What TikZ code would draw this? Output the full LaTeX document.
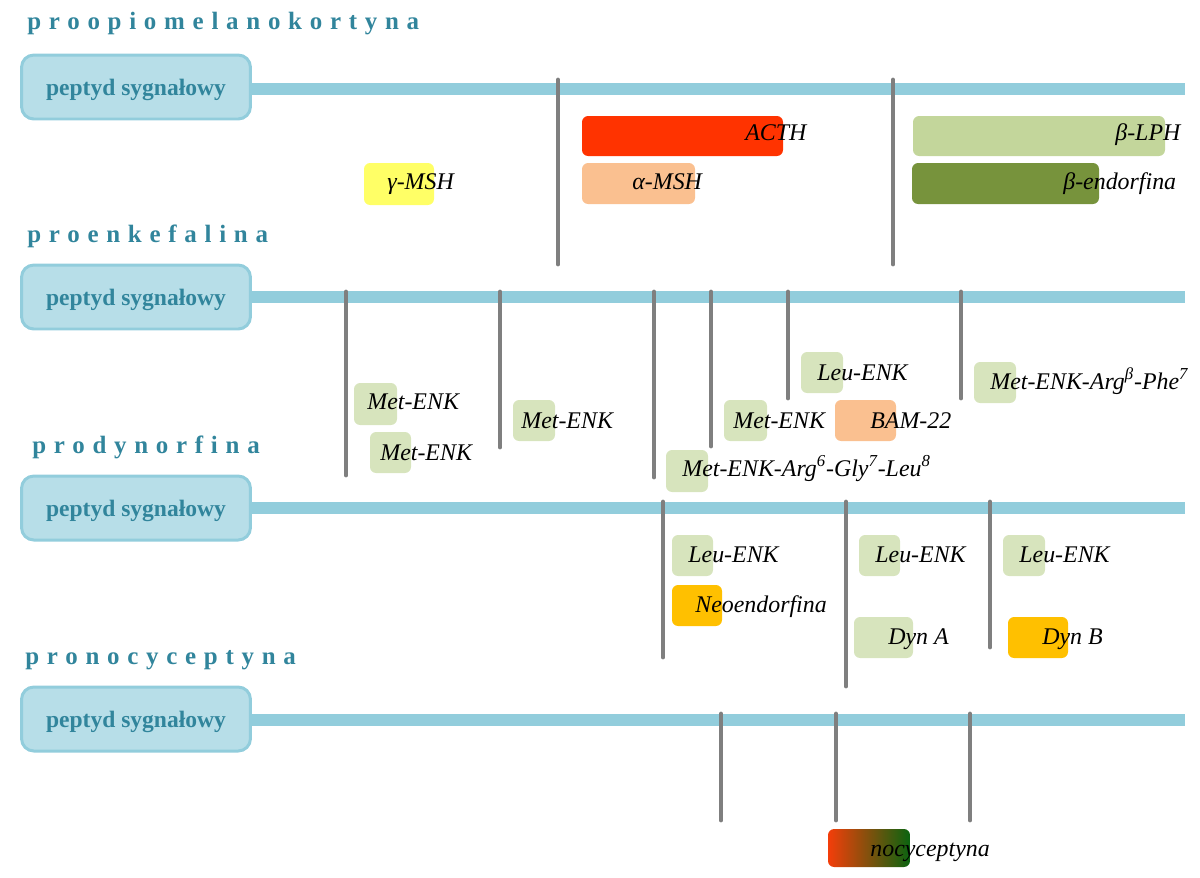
\documentclass[tikz,border=0pt]{standalone}
\usepackage{fontspec}
\setmainfont{Liberation Serif}
\usepackage{xcolor}
\usepackage{tikz}
\usetikzlibrary{positioning}

\definecolor{tealtxt}{HTML}{31859C}
\definecolor{sigfill}{HTML}{B7DEE8}
\definecolor{sigline}{HTML}{92CDDC}
\definecolor{cutgray}{HTML}{7F7F7F}
\definecolor{acthred}{HTML}{FF3300}
\definecolor{lphgreen}{HTML}{C3D69B}
\definecolor{mshyellow}{HTML}{FFFF66}
\definecolor{peach}{HTML}{FAC090}
\definecolor{endogreen}{HTML}{77933C}
\definecolor{enkgreen}{HTML}{D7E4BD}
\definecolor{dynorange}{HTML}{FFC000}
\definecolor{nocred}{HTML}{F43E0A}
\definecolor{nocmid}{HTML}{A6C67C}
\definecolor{nocdark}{HTML}{0A6410}

\begin{document}
\begin{tikzpicture}[x=0.02cm, y=-0.02cm,
    title/.style={anchor=base west, inner sep=0pt, text=tealtxt,
      font=\fontsize{14.2}{17}\selectfont\bfseries\addfontfeatures{LetterSpace=31}},
    signal/.style={draw=sigline, line width=1.7pt, fill=sigfill, rounded corners=7pt,
      minimum width=4.58cm, minimum height=1.28cm, text=tealtxt, text depth=0pt,
      font=\fontsize{13.4}{16}\selectfont\bfseries},
    chain/.style={draw=sigline, line width=6.8pt},
    cut/.style={draw=cutgray, line width=2.8pt, line cap=round},
    pep/.style={rounded corners=3.5pt},
    lbl/.style={anchor=base west, inner sep=0pt, font=\fontsize{13.6}{16}\selectfont\itshape}]
  \useasboundingbox (0,0) rectangle (1200,877);

  % proopiomelanokortyna
  \node[title] (t1) at (27,29) {proopiomelanokortyna};
  \coordinate (end1) at (1185,89);
  \draw[chain] (136,89) -- (end1);
  \node[signal] (sig1) at (136,87) {peptyd sygnałowy};
  \draw[cut] (558,80) -- (558,264);
  \draw[cut] (893,80) -- (893,264);
  \fill[pep, acthred] (582,116) rectangle (783,156);
  \fill[pep, lphgreen] (913,116) rectangle (1165,156);
  \fill[pep, mshyellow] (364,163) rectangle (434,205);
  \fill[pep, peach] (582,163) rectangle (695,204);
  \fill[pep, endogreen] (912,163) rectangle (1099,204);
  \node[lbl] (acth) at (745,140) {ACTH};
  \node[lbl] (blph) at (1115,140) {β-LPH};
  \node[lbl] (gmsh) at (387,189) {γ-MSH};
  \node[lbl] (amsh) at (632,189) {α-MSH};
  \node[lbl] (bend) at (1063,189) {β-endorfina};

  % proenkefalina
  \node[title] (t2) at (27,242) {proenkefalina};
  \coordinate (end2) at (1185,297);
  \draw[chain] (136,297) -- (end2);
  \node[signal] (sig2) at (136,297) {peptyd sygnałowy};
  \draw[cut] (346,292) -- (346,475);
  \draw[cut] (500,292) -- (500,447);
  \draw[cut] (654,292) -- (654,477);
  \draw[cut] (711,292) -- (711,446);
  \draw[cut] (788,292) -- (788,398);
  \draw[cut] (961,292) -- (961,398);
  \fill[pep, enkgreen] (354,383) rectangle (397,425);
  \fill[pep, enkgreen] (370,432) rectangle (411,473);
  \fill[pep, enkgreen] (513,400) rectangle (555,441);
  \fill[pep, enkgreen] (801,352) rectangle (843,393);
  \fill[pep, enkgreen] (724,400) rectangle (767,441);
  \fill[pep, peach] (835,400) rectangle (896,441);
  \fill[pep, enkgreen] (974,362) rectangle (1016,403);
  \fill[pep, enkgreen] (666,450) rectangle (708,492);
  \node[lbl] (menk1) at (367,409) {Met-ENK};
  \node[lbl] (menk2) at (380,460) {Met-ENK};
  \node[lbl] (menk3) at (521,428) {Met-ENK};
  \node[lbl] (lenk1) at (817,380) {Leu-ENK};
  \node[lbl] (menk4) at (733,428) {Met-ENK};
  \node[lbl] (bam) at (870,428) {BAM-22};
  \node[lbl] (argphe) at (990,389) {Met-ENK-Arg\textsuperscript{β}-Phe\textsuperscript{7}};
  \node[lbl] (arggly) at (682,476) {Met-ENK-Arg\textsuperscript{6}-Gly\textsuperscript{7}-Leu\textsuperscript{8}};

  % prodynorfina
  \node[title] (t3) at (32,453) {prodynorfina};
  \coordinate (end3) at (1185,508);
  \draw[chain] (136,508) -- (end3);
  \node[signal] (sig3) at (136,508) {peptyd sygnałowy};
  \draw[cut] (663,502) -- (663,657);
  \draw[cut] (846,502) -- (846,686);
  \draw[cut] (990,502) -- (990,647);
  \fill[pep, enkgreen] (672,535) rectangle (713,576);
  \fill[pep, dynorange] (672,585) rectangle (722,626);
  \fill[pep, enkgreen] (859,535) rectangle (900,576);
  \fill[pep, enkgreen] (854,617) rectangle (913,658);
  \fill[pep, enkgreen] (1003,535) rectangle (1045,576);
  \fill[pep, dynorange] (1008,617) rectangle (1068,658);
  \node[lbl] (lenk2) at (688,562) {Leu-ENK};
  \node[lbl] (neo) at (695,612) {Neoendorfina};
  \node[lbl] (lenk3) at (875,562) {Leu-ENK};
  \node[lbl] (dyna) at (888,644) {Dyn A};
  \node[lbl] (lenk4) at (1019,562) {Leu-ENK};
  \node[lbl] (dynb) at (1042,644) {Dyn B};

  % pronocyceptyna
  \node[title] (t4) at (25,664) {pronocyceptyna};
  \coordinate (end4) at (1185,720);
  \draw[chain] (136,720) -- (end4);
  \node[signal] (sig4) at (136,719) {peptyd sygnałowy};
  \draw[cut] (721,714) -- (721,820);
  \draw[cut] (836,714) -- (836,820);
  \draw[cut] (970,714) -- (970,820);
  \shade[pep, left color=nocred, middle color=nocmid, right color=nocdark]
    (828,829) rectangle (910,867);
  \node[lbl] (noc) at (870,856) {nocyceptyna};
\end{tikzpicture}
\end{document}
